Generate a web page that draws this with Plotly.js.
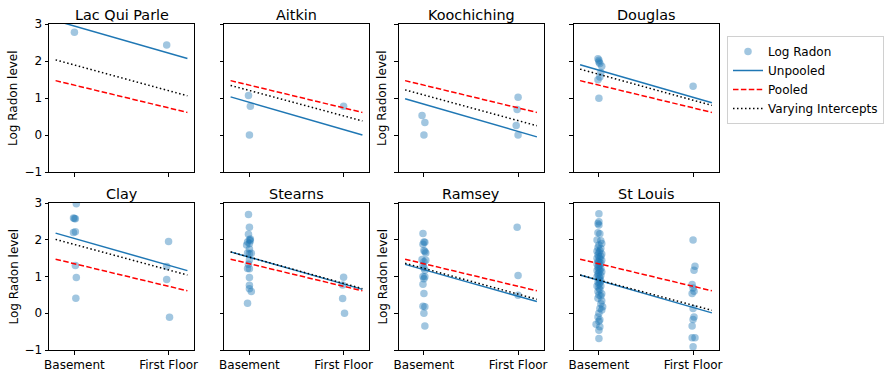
<!DOCTYPE html>
<html>
<head>
<meta charset="utf-8">
<script src="https://cdn.plot.ly/plotly-3.0.1.min.js"></script>
<style>html,body{margin:0;padding:0;background:#fff;}#chart{width:886px;height:377px;}</style>
</head>
<body>
<div id="chart"></div>
<script>
// ---- Data ----
const counties = ['Lac Qui Parle', 'Aitkin', 'Koochiching', 'Douglas', 'Clay', 'Stearns', 'Ramsey', 'St Louis'];
const floorTickVals = [0, 1];
const floorTickText = ['Basement', 'First Floor'];
const radonTickVals = [-1, 0, 1, 2, 3];
const radonTickText = ['\u22121', '0', '1', '2', '3'];

// Line endpoints at floor = -0.2 and floor = 1.2
const lineX = [-0.2, 1.2];
const unpooledStart = [3.09, 1.03, 0.98, 1.90, 2.18, 1.67, 1.33, 1.04];
const unpooledEnd   = [2.07, 0.00, -0.05, 0.87, 1.16, 0.65, 0.32, 0.01];
const pooledStart = 1.47;
const pooledEnd = 0.61;
const varyingStart = [2.03, 1.34, 1.22, 1.78, 2.01, 1.67, 1.36, 1.04];
const varyingEnd   = [1.06, 0.38, 0.25, 0.80, 1.04, 0.67, 0.38, 0.08];

// Observed log radon points: [floor (jittered), log radon]
const lacQuiParlePts = [[0.00, 2.78], [0.98, 2.43]];
const aitkinPts = [[-0.01, 1.07], [0.01, 0.78], [0.00, 0.00], [1.00, 0.78]];
const koochichingPts = [[-0.02, 0.53], [0.01, 0.34], [0.00, 0.00],
  [1.00, 1.02], [0.99, 0.69], [0.98, 0.26], [1.00, 0.00]];
const douglasPts = [[-0.01, 2.06], [0.00, 2.02], [0.00, 1.97], [0.01, 1.93], [0.03, 1.86],
  [0.02, 1.69], [0.01, 1.57], [-0.01, 1.49], [0.00, 0.99], [1.00, 1.32]];
const clayPts = [[0.02, 2.98], [-0.01, 2.59], [0.00, 2.58], [0.01, 2.57], [0.01, 2.22], [-0.01, 2.20],
  [0.01, 1.30], [0.02, 0.97], [0.015, 0.41],
  [1.00, 1.95], [0.98, 1.27], [0.98, 0.92], [1.01, -0.11]];
const stearnsPts = [[-0.01, 2.69], [0.00, 2.34], [-0.01, 2.15], [0.01, 2.02], [0.00, 2.00], [0.01, 1.97],
  [-0.02, 1.94], [0.00, 1.90], [-0.03, 1.86], [0.00, 1.75], [-0.02, 1.64], [0.02, 1.63], [0.00, 1.62],
  [0.00, 1.45], [-0.01, 1.33], [-0.02, 1.22], [0.00, 1.21], [0.00, 0.97], [0.00, 0.76], [0.00, 0.67],
  [0.02, 0.59], [-0.02, 0.27],
  [1.00, 0.98], [0.99, 0.77], [0.99, 0.40], [1.01, 0.00]];
const ramseyPts = [[-0.01, 2.17], [0.00, 1.94], [0.01, 1.93], [-0.01, 1.88], [0.00, 1.71], [0.01, 1.68],
  [0.02, 1.64], [-0.02, 1.46], [0.02, 1.44], [0.00, 1.40], [-0.01, 1.30], [0.00, 1.24], [0.01, 1.17],
  [-0.01, 1.00], [0.01, 0.99], [0.00, 0.94], [-0.01, 0.79], [0.00, 0.54], [-0.01, 0.19], [0.01, 0.18],
  [0.00, 0.00], [0.01, -0.35],
  [0.99, 2.34], [1.00, 1.03], [1.00, 0.49]];
const stLouisPts = [[0.00, 2.71], [0.00, 2.49], [-0.01, 2.44], [0.00, 2.40], [-0.01, 2.19], [0.01, 2.16],
  [-0.02, 1.99], [0.02, 1.97], [0.03, 1.90], [0.00, 1.86], [-0.01, 1.79], [0.02, 1.76], [0.01, 1.70],
  [-0.02, 1.69], [0.00, 1.65], [0.03, 1.61], [-0.01, 1.59], [0.02, 1.55], [0.00, 1.53], [-0.02, 1.50],
  [0.01, 1.48], [0.03, 1.44], [-0.01, 1.41], [0.00, 1.39], [0.02, 1.36], [-0.02, 1.34], [0.01, 1.31],
  [0.00, 1.28], [-0.01, 1.25], [0.02, 1.22], [0.00, 1.19], [-0.02, 1.16], [0.01, 1.16], [0.03, 1.13],
  [0.00, 1.10], [-0.01, 1.06], [0.02, 1.03], [0.00, 1.00], [-0.02, 0.99], [0.01, 0.96], [0.00, 0.92],
  [0.02, 0.88], [-0.01, 0.85], [0.01, 0.83], [0.00, 0.79], [-0.02, 0.74], [0.02, 0.74], [0.00, 0.69],
  [0.01, 0.64], [-0.01, 0.59], [0.03, 0.53], [0.00, 0.50], [0.02, 0.47], [-0.01, 0.41], [0.03, 0.34],
  [0.02, 0.26], [0.04, 0.18], [0.01, 0.13], [0.03, 0.09], [0.00, 0.00], [-0.01, -0.10], [0.01, -0.18],
  [0.00, -0.22], [-0.03, -0.30], [0.01, -0.37], [0.00, -0.46], [0.00, -0.69],
  [1.00, 1.99], [1.02, 1.28], [1.01, 1.17], [0.99, 0.78], [1.00, 0.69], [1.01, 0.60], [0.99, 0.54],
  [1.00, 0.13], [1.01, -0.10], [1.00, -0.17], [0.99, -0.35], [0.99, -0.67], [1.02, -0.67], [1.00, -0.91]];
const countyPts = [lacQuiParlePts, aitkinPts, koochichingPts, douglasPts, clayPts, stearnsPts, ramseyPts, stLouisPts];

// ---- Layout geometry ----
const W = 886, H = 377;
const colLeftPx = [49, 224, 398.5, 573.5];
const panelW = 145;
const rowPx = [[24, 172], [203, 350]];
const FONT = 'DejaVu Sans, Liberation Sans, sans-serif';

const traces = [];
const layout = {
  width: W, height: H,
  margin: {l: 0, r: 0, t: 0, b: 0},
  paper_bgcolor: '#ffffff',
  plot_bgcolor: '#ffffff',
  font: {family: FONT, size: 12, color: '#000000'},
  showlegend: true,
  legend: {
    x: 727 / W, y: 1 - 36 / H, xanchor: 'left', yanchor: 'top',
    bgcolor: '#ffffff', bordercolor: '#d0d0d0', borderwidth: 1,
    font: {family: FONT, size: 12, color: '#000000'},
    tracegroupgap: 0, itemwidth: 30
  },
  annotations: []
};

for (let i = 0; i < counties.length; i++) {
  const row = Math.floor(i / 4), col = i % 4;
  const ax = i + 1;
  const xa = 'x' + (ax === 1 ? '' : ax);
  const ya = 'y' + (ax === 1 ? '' : ax);
  const pts = countyPts[i];
  const first = i === 0;

  traces.push({
    type: 'scatter', mode: 'markers', xaxis: xa, yaxis: ya,
    x: pts.map(p => p[0]), y: pts.map(p => p[1]),
    name: 'Log Radon', legendgroup: 'obs', showlegend: first,
    marker: {color: 'rgba(31,119,180,0.42)', size: 7.5, line: {width: 0}},
    hoverinfo: 'skip'
  });
  traces.push({
    type: 'scatter', mode: 'lines', xaxis: xa, yaxis: ya,
    x: lineX, y: [unpooledStart[i], unpooledEnd[i]],
    name: 'Unpooled', legendgroup: 'unp', showlegend: first,
    line: {color: '#1f77b4', width: 1.5}, hoverinfo: 'skip'
  });
  traces.push({
    type: 'scatter', mode: 'lines', xaxis: xa, yaxis: ya,
    x: lineX, y: [pooledStart, pooledEnd],
    name: 'Pooled', legendgroup: 'pool', showlegend: first,
    line: {color: '#ff0000', width: 1.5, dash: '5.5px,2.4px'}, hoverinfo: 'skip'
  });
  traces.push({
    type: 'scatter', mode: 'lines', xaxis: xa, yaxis: ya,
    x: lineX, y: [varyingStart[i], varyingEnd[i]],
    name: 'Varying Intercepts', legendgroup: 'vary', showlegend: first,
    line: {color: '#000000', width: 1.5, dash: '1.5px,2.5px'}, hoverinfo: 'skip'
  });

  const x0 = colLeftPx[col], x1 = colLeftPx[col] + panelW;
  const yTop = rowPx[row][0], yBot = rowPx[row][1];
  layout['xaxis' + (ax === 1 ? '' : ax)] = {
    domain: [x0 / W, x1 / W], anchor: ya,
    range: [-0.27, 1.27], tickvals: floorTickVals, ticktext: floorTickText,
    showticklabels: row === 1, ticks: 'outside', ticklen: 3.5, tickwidth: 1, tickcolor: '#000',
    showline: true, linecolor: '#000', linewidth: 1, mirror: true,
    showgrid: false, zeroline: false, fixedrange: true,
    tickfont: {family: FONT, size: 12, color: '#000'}
  };
  layout['yaxis' + (ax === 1 ? '' : ax)] = {
    domain: [1 - yBot / H, 1 - yTop / H], anchor: xa,
    range: [-1, 3], tickvals: radonTickVals, ticktext: radonTickText,
    showticklabels: col === 0, ticks: 'outside', ticklen: 3.5, tickwidth: 1, tickcolor: '#000',
    showline: true, linecolor: '#000', linewidth: 1, mirror: true,
    showgrid: false, zeroline: false, fixedrange: true,
    tickfont: {family: FONT, size: 12, color: '#000'}
  };

  // subplot title
  layout.annotations.push({
    text: counties[i], xref: 'paper', yref: 'paper',
    x: (x0 + x1) / 2 / W, y: 1 - (yTop - 9) / H,
    xanchor: 'center', yanchor: 'middle', showarrow: false,
    font: {family: FONT, size: 14.4, color: '#000'}
  });
  // y axis title on columns 0 and 2
  if (col === 0 || col === 2) {
    const tx = col === 0 ? 13 : 382;
    layout.annotations.push({
      text: 'Log Radon level', xref: 'paper', yref: 'paper',
      x: tx / W, y: 1 - ((yTop + yBot) / 2) / H,
      xanchor: 'center', yanchor: 'middle', showarrow: false, textangle: -90,
      font: {family: FONT, size: 12, color: '#000'}
    });
  }
}

Plotly.newPlot('chart', traces, layout, {displayModeBar: false, staticPlot: true});
</script>
</body>
</html>
